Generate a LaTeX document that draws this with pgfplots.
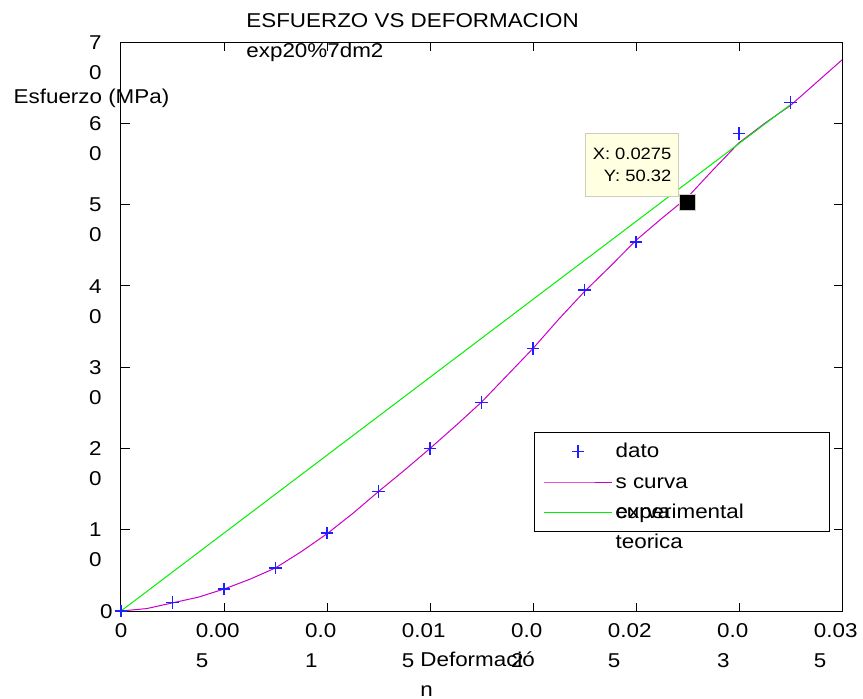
\documentclass[border=0pt]{standalone}
\usepackage{fontspec}
\setmainfont{Liberation Sans}[FakeStretch=1.12]
\usepackage{pgfplots}
\pgfplotsset{compat=1.18}
\definecolor{mag}{RGB}{200,0,200}
\definecolor{grn}{RGB}{0,240,0}
\definecolor{dblue}{RGB}{30,30,255}
\definecolor{tipfill}{RGB}{255,255,225}
\definecolor{tipdraw}{RGB}{205,205,190}
\newcommand{\tl}[2]{\begin{tabular}[t]{@{}l@{}}#1\phantom{#2}\\#2\end{tabular}}
\newcommand{\yl}[2]{\begin{tabular}[t]{@{}c@{}}#1\\#2\end{tabular}}
\newcommand{\lx}[2]{\makebox[100.5pt][l]{\rlap{\raisebox{-15pt}[0pt][0pt]{#2}}#1}}
\begin{document}
\begin{tikzpicture}[font=\fontsize{10}{15}\selectfont]
\path[use as bounding box] (-60.5pt,-43.5pt) rectangle (371pt,305.5pt);
\begin{axis}[
  at={(0,0)}, anchor=south west,
  scale only axis, width=360.5pt, height=284.5pt,
  xmin=0, xmax=0.035, ymin=0, ymax=70,
  xtick={0,0.005,0.01,0.015,0.02,0.025,0.03,0.035},
  xticklabels={0,\tl{0.00}{5},\tl{0.0}{1},\tl{0.01}{5},\tl{0.0}{2},\tl{0.02}{5},\tl{0.0}{3},\tl{0.03}{5}},
  ytick={0,10,20,30,40,50,60,70},
  yticklabels={0\kern-5.5pt,\yl{1}{0},\yl{2}{0},\yl{3}{0},\yl{4}{0},\yl{5}{0},\yl{6}{0},\yl{7}{0}},
  xticklabel style={anchor=base, yshift=-13pt},
  yticklabel style={anchor=base east, xshift=-6.2pt, yshift=-3.6pt},
  major tick length=4.25pt,
  axis line style={black, line width=0.5pt},
  tick style={black, line width=0.5pt},
  title={\begin{tabular}[t]{@{}l@{}}ESFUERZO VS DEFORMACION\\exp20\%7dm2\end{tabular}},
  every axis title/.style={at={(axis description cs:0.1734,1.0258)}, anchor=base west, inner sep=0pt},
  xlabel={\begin{tabular}[t]{@{}l@{}}Deformació\\n\end{tabular}},
  ylabel={Esfuerzo (MPa)},
  every axis x label/.style={at={(axis description cs:0.4147,-0.0967)}, anchor=base west, inner sep=0pt},
  every axis y label/.style={at={(axis description cs:-0.1494,0.8923)}, anchor=base west, inner sep=0pt},
  legend cell align=left,
  legend style={at={(axis description cs:0.5728,0.3146)}, anchor=north west, draw=black, line width=0.5pt,
    inner xsep=4.75pt, inner ysep=1.65pt, row sep=0pt,
    nodes={inner xsep=1.75pt, inner ysep=0.2pt, text height=10.5pt, text depth=4.5pt}},
  legend image code/.code={\draw[mark repeat=2,mark phase=2,#1] plot coordinates {(0cm,0cm) (0.59cm,0cm) (1.18cm,0cm)};},
]
\addlegendimage{only marks, mark=+, mark size=3.2pt, dblue, line width=0.6pt}
\addlegendentry{\lx{dato}{}}
\addplot[mag, line width=0.5pt] coordinates {
(0,0) (0.00125,0.3) (0.0025,1.0) (0.00375,1.7) (0.005,2.7) (0.00625,3.9) (0.0075,5.3)
(0.00875,7.3) (0.01,9.5) (0.01125,12.0) (0.0125,14.7) (0.01375,17.3) (0.015,20.0)
(0.01625,22.8) (0.0175,25.7) (0.01875,29.0) (0.02,32.3) (0.02125,35.9) (0.0225,39.3)
(0.02375,42.4) (0.025,45.6) (0.02625,48.3) (0.0275,50.9) (0.02875,54.3) (0.03,57.6)
(0.03125,60.0) (0.0325,62.2) (0.03375,65.0) (0.035,67.8)};
\addlegendentry{\lx{s curva}{experimental}}
\addplot[grn, line width=0.5pt] coordinates {(0,0) (0.0325,62.3)};
\addlegendentry{\lx{curva}{teorica}}
\addplot[only marks, mark=+, mark size=3.2pt, dblue, line width=0.6pt, forget plot] coordinates {
(0,0) (0.0025,1.0) (0.005,2.7) (0.0075,5.3) (0.01,9.6) (0.0125,14.7) (0.015,20.0)
(0.0175,25.7) (0.02,32.3) (0.0225,39.5) (0.025,45.4) (0.0275,50.32) (0.03,58.7) (0.0325,62.6)};
\addplot[only marks, mark=square*, mark size=4pt, mark options={fill=black, draw=tipdraw}, forget plot] coordinates {(0.0275,50.32)};
\node[fill=tipfill, draw=tipdraw, align=right, minimum width=46.5pt, minimum height=31.5pt, font=\fontsize{8.2}{11}\selectfont] at (axis cs:0.02481,54.9) {X: 0.0275\\Y: 50.32};
\end{axis}
\end{tikzpicture}
\end{document}
